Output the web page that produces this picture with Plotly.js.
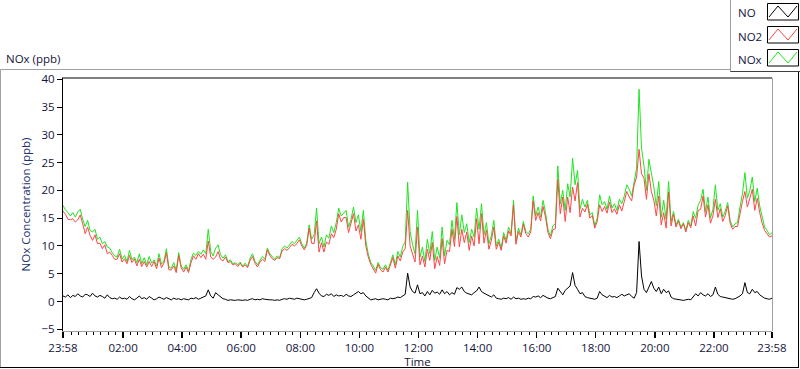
<!DOCTYPE html>
<html>
<head>
<meta charset="utf-8">
<script src="https://cdn.plot.ly/plotly-3.0.1.min.js"></script>
<style>
html,body{margin:0;padding:0;background:#fff;}
#chart{width:800px;height:369px;}
</style>
</head>
<body>
<div id="chart"></div>
<script>
// ---- data (5-minute samples) ----
const startTime = '2024-01-01T23:58:00Z';
const sampleMinutes = 5;

const seriesNames = ['NO', 'NO2', 'NOx'];

const noValues = [
  1.0,0.8,1.2,0.7,1.1,0.9,1.4,1.0,0.8,1.3,1.2,0.9,
  1.5,1.0,0.8,1.1,0.9,0.6,1.2,0.7,0.5,0.6,0.4,0.8,
  0.5,0.6,0.4,0.9,0.5,0.3,0.6,1.0,0.5,0.7,0.4,0.9,
  0.6,0.3,0.5,0.8,0.6,0.4,0.7,0.5,0.3,0.6,0.4,0.5,
  0.3,0.5,0.4,0.3,0.6,0.5,0.7,0.4,0.6,0.8,1.0,2.1,
  1.0,0.6,1.6,1.2,0.8,0.5,0.4,0.2,0.3,0.2,0.2,0.3,
  0.2,0.2,0.3,0.2,0.4,0.5,0.3,0.4,0.3,0.5,0.4,0.3,
  0.3,0.3,0.2,0.3,0.2,0.4,0.5,0.4,0.6,0.5,0.4,0.6,
  0.5,0.4,0.3,0.4,0.6,0.7,1.6,2.3,1.5,1.0,0.9,1.3,
  1.1,1.4,0.9,1.2,1.0,1.1,0.9,1.3,1.0,0.9,1.2,1.5,
  1.8,1.4,1.6,1.0,0.6,0.3,0.4,0.5,0.3,0.4,0.5,0.4,
  0.3,0.6,0.5,0.6,0.8,0.7,1.0,1.3,5.1,2.6,1.8,1.5,
  3.0,1.4,1.6,1.0,1.8,1.2,2.0,1.5,1.7,1.3,2.1,1.4,
  1.8,1.2,1.6,1.3,2.5,2.2,2.6,1.8,1.5,1.4,1.2,1.6,
  1.9,2.6,1.8,1.5,1.3,1.0,0.8,1.2,0.6,0.5,0.4,0.6,
  0.5,0.7,0.4,0.8,0.5,0.6,0.4,0.5,0.4,0.6,0.5,0.9,
  0.8,1.0,0.7,1.1,0.8,0.6,0.5,0.7,0.9,2.4,1.8,1.2,
  2.0,2.4,2.8,5.2,2.9,2.2,1.4,1.6,0.9,0.7,0.6,0.5,
  0.4,0.6,1.8,1.2,0.9,0.7,1.1,0.8,0.9,0.7,1.0,1.3,
  1.0,1.2,1.4,0.9,0.6,1.6,10.8,4.6,2.2,1.6,2.6,3.6,
  2.4,1.8,2.6,1.4,2.2,1.6,1.9,0.8,0.5,0.4,0.3,0.3,
  0.2,0.3,0.4,0.3,0.8,1.4,1.0,1.6,1.2,1.0,1.4,0.9,
  1.2,2.6,1.3,0.9,0.8,0.7,0.6,0.5,0.4,0.5,0.7,1.0,
  1.4,3.4,1.6,1.4,2.2,1.6,1.8,1.2,0.9,0.6,0.5,0.4,
  0.6
];

const no2Values = [
  16.3,15.7,14.8,14.7,14.9,14.3,14.7,15.6,14.0,12.2,13.4,11.9,
  11.0,12.0,10.4,10.5,9.5,10.2,8.6,8.9,8.3,7.6,7.6,8.6,
  7.1,7.7,6.8,8.3,7.0,7.7,6.4,7.6,6.3,7.2,6.2,7.2,
  6.3,7.2,5.9,7.8,6.1,6.9,8.8,5.7,5.7,6.4,5.2,8.3,
  6.1,5.3,6.2,5.2,7.0,8.2,7.6,8.6,7.9,8.5,7.6,10.9,
  8.0,7.6,8.0,9.0,7.6,7.3,8.0,7.0,7.2,6.6,6.8,6.3,
  6.9,6.2,6.6,6.1,7.4,8.1,6.9,6.2,7.1,7.6,7.2,9.3,
  8.3,7.7,7.4,7.9,7.7,9.1,9.5,9.2,9.7,10.3,10.0,10.4,
  11.1,10.0,9.3,10.1,13.2,10.5,10.4,14.5,8.9,10.6,8.9,10.7,
  10.3,12.2,11.5,13.0,15.8,14.3,15.1,15.1,12.4,13.9,15.8,12.7,
  13.8,11.2,14.8,10.0,8.0,6.7,6.0,5.1,6.7,5.7,5.3,6.2,
  5.3,6.6,7.9,6.0,8.2,7.3,8.9,9.5,16.4,10.0,8.4,7.1,
  13.4,6.6,8.2,6.2,9.4,7.4,10.6,5.9,8.1,6.5,11.3,6.8,
  9.2,9.0,13.0,9.9,15.3,9.8,13.0,10.6,12.5,9.2,11.8,10.0,
  14.9,10.4,15.8,10.5,12.9,9.4,11.0,13.4,9.4,10.7,9.2,11.8,
  10.5,12.7,11.8,17.4,10.3,12.6,11.6,13.9,12.2,11.6,12.5,18.1,
  14.6,16.0,14.5,17.1,15.2,12.4,11.3,12.9,13.1,22.0,15.8,18.8,
  14.4,18.8,16.0,20.6,18.1,21.4,15.2,16.8,16.1,17.5,15.0,15.5,
  13.2,14.4,17.4,16.2,17.1,15.9,17.9,16.0,16.7,15.7,17.4,16.3,
  18.0,19.8,18.8,18.1,21.0,22.4,27.4,23.0,22.2,18.4,23.0,19.8,
  18.2,15.4,19.0,13.8,16.0,13.2,19.7,13.6,15.7,13.4,14.5,13.1,
  14.0,12.5,14.2,13.3,15.4,13.6,16.4,16.6,19.0,15.2,17.4,14.1,
  15.4,18.4,15.1,16.7,14.4,15.5,17.2,14.1,13.0,13.5,13.5,16.0,
  18.0,19.8,17.0,18.6,20.2,16.4,18.6,16.0,14.1,12.8,12.3,11.6,
  11.8
];

const noxValues = [
  17.3,16.5,16.0,15.4,16.0,15.2,16.1,16.6,14.8,13.5,14.6,12.8,
  12.5,13.0,11.2,11.6,10.4,10.8,9.8,9.6,8.8,8.2,8.0,9.4,
  7.6,8.3,7.2,9.2,7.5,8.0,7.0,8.6,6.8,7.9,6.6,8.1,
  6.9,7.5,6.4,8.6,6.7,7.3,9.5,6.2,6.0,7.0,5.6,8.8,
  6.4,5.8,6.6,5.5,7.6,8.7,8.3,9.0,8.5,9.3,8.6,13.0,
  9.0,8.2,9.6,10.2,8.4,7.8,8.4,7.2,7.5,6.8,7.0,6.6,
  7.1,6.4,6.9,6.3,7.8,8.6,7.2,6.6,7.4,8.1,7.6,9.6,
  8.6,8.0,7.6,8.2,7.9,9.5,10.0,9.6,10.3,10.8,10.4,11.0,
  11.6,10.4,9.6,10.5,13.8,11.2,12.0,16.8,10.4,11.6,9.8,12.0,
  11.4,13.6,12.4,14.2,16.8,15.4,16.0,16.4,13.4,14.8,17.0,14.2,
  15.6,12.6,16.4,11.0,8.6,7.0,6.4,5.6,7.0,6.1,5.8,6.6,
  5.6,7.2,8.4,6.6,9.0,8.0,9.9,10.8,21.5,12.6,10.2,8.6,
  16.4,8.0,9.8,7.2,11.2,8.6,12.6,7.4,9.8,7.8,13.4,8.2,
  11.0,10.2,14.6,11.2,17.8,12.0,15.6,12.4,14.0,10.6,13.0,11.6,
  16.8,13.0,17.6,12.0,14.2,10.4,11.8,14.6,10.0,11.2,9.6,12.4,
  11.0,13.4,12.2,18.2,10.8,13.2,12.0,14.4,12.6,12.2,13.0,19.0,
  15.4,17.0,15.2,18.2,16.0,13.0,11.8,13.6,14.0,24.4,17.6,20.0,
  16.4,21.2,18.8,25.8,21.0,23.6,16.6,18.4,17.0,18.2,15.6,16.0,
  13.6,15.0,19.2,17.4,18.0,16.6,19.0,16.8,17.6,16.4,18.4,17.6,
  19.0,21.0,20.2,19.0,21.6,24.0,38.2,27.6,24.4,20.0,25.6,23.4,
  20.6,17.2,21.6,15.2,18.2,14.8,21.6,14.4,16.2,13.8,14.8,13.4,
  14.2,12.8,14.6,13.6,16.2,15.0,17.4,18.2,20.2,16.2,18.8,15.0,
  16.6,21.0,16.4,17.6,15.2,16.2,17.8,14.6,13.4,14.0,14.2,17.0,
  19.4,23.2,18.6,20.0,22.4,18.0,20.4,17.2,15.0,13.4,12.8,12.0,
  12.4
];

const xTickVals = ['2024-01-01 23:58','2024-01-02 02:00','2024-01-02 04:00','2024-01-02 06:00',
  '2024-01-02 08:00','2024-01-02 10:00','2024-01-02 12:00','2024-01-02 14:00','2024-01-02 16:00',
  '2024-01-02 18:00','2024-01-02 20:00','2024-01-02 22:00','2024-01-02 23:58'];
const xTickText = ['23:58','02:00','04:00','06:00','08:00','10:00','12:00','14:00','16:00',
  '18:00','20:00','22:00','23:58'];

// ---- build sample timestamps ----
const t0 = Date.parse(startTime);
const times = noxValues.map((_, i) =>
  new Date(t0 + i * sampleMinutes * 60000).toISOString().replace('T', ' ').slice(0, 19));

// ---- geometry helpers for decorations (not data) ----
const W = 800, H = 369, ML = 63, MR = 28, MT = 78, MB = 38;
const PW = W - ML - MR, PH = H - MT - MB;
const px = v => (v - ML) / PW;
const py = v => (H - MB - v) / PH;

const TXT = '#14143a';
const FONT = 'Open Sans, Noto Sans, sans-serif';

const traces = [
  {x: times, y: noxValues, name: seriesNames[2], type: 'scatter', mode: 'lines',
   line: {color: '#1ee61e', width: 1}},
  {x: times, y: no2Values, name: seriesNames[1], type: 'scatter', mode: 'lines',
   line: {color: '#ff4646', width: 1}},
  {x: times, y: noValues, name: seriesNames[0], type: 'scatter', mode: 'lines',
   line: {color: '#000000', width: 1}}
];

const shapes = [];
const line = (x0, y0, x1, y1, color) => shapes.push({type: 'line', xref: 'paper', yref: 'paper',
  x0: px(x0), y0: py(y0), x1: px(x1), y1: py(y1), line: {color: color, width: 1}});

// outer frame
line(0.5, 69.5, 730, 69.5, '#a0a0a0');
line(0.5, 69.5, 0.5, 367.5, '#a0a0a0');
line(0, 367.5, 799, 367.5, '#000000');
line(798.5, 72, 798.5, 367.5, '#000000');
// plot frame top / right
line(62, 78, 772, 78, '#000000');
line(772.5, 78, 772.5, 331, '#a0a0a0');

// legend box
shapes.push({type: 'rect', xref: 'paper', yref: 'paper', x0: px(730.5), y0: py(0), x1: px(800), y1: py(72),
  fillcolor: '#ffffff', line: {width: 0}});
line(730.5, 0, 730.5, 72, '#a0a0a0');
line(730.5, 71.5, 800, 71.5, '#404040');
const swColors = ['#000000', '#ff4646', '#1ee61e'];
const swTop = [3, 26, 49];
swTop.forEach((top, k) => {
  const bot = top + 17;
  shapes.push({type: 'rect', xref: 'paper', yref: 'paper', x0: px(767.5), y0: py(top + 0.5), x1: px(798.5), y1: py(bot),
    line: {color: '#000000', width: 1}, fillcolor: '#ffffff'});
  const pts = [[769, bot - 3], [778, top + 3], [788, bot - 3], [797, top + 3]];
  shapes.push({type: 'path', xref: 'paper', yref: 'paper',
    path: 'M' + pts.map(p => px(p[0]) + ',' + py(p[1])).join(' L'),
    line: {color: swColors[k], width: 1}});
});

const annotations = [
  {text: 'NOx (ppb)', xref: 'paper', yref: 'paper', x: px(4), y: py(58), xanchor: 'left', yanchor: 'middle',
   showarrow: false, font: {family: FONT, size: 11.5, color: TXT}},
  {text: seriesNames[0], xref: 'paper', yref: 'paper', x: px(736), y: py(13), xanchor: 'left', yanchor: 'middle',
   showarrow: false, font: {family: FONT, size: 11.5, color: TXT}},
  {text: seriesNames[1], xref: 'paper', yref: 'paper', x: px(736), y: py(36), xanchor: 'left', yanchor: 'middle',
   showarrow: false, font: {family: FONT, size: 11.5, color: TXT}},
  {text: seriesNames[2], xref: 'paper', yref: 'paper', x: px(736), y: py(59), xanchor: 'left', yanchor: 'middle',
   showarrow: false, font: {family: FONT, size: 11.5, color: TXT}}
];

const layout = {
  width: W, height: H,
  margin: {l: ML, r: MR, t: MT, b: MB, pad: 0},
  paper_bgcolor: '#ffffff', plot_bgcolor: '#ffffff',
  showlegend: false,
  font: {family: FONT, size: 11, color: TXT},
  xaxis: {
    type: 'date',
    range: [xTickVals[0], xTickVals[xTickVals.length - 1]],
    tickmode: 'array', tickvals: xTickVals, ticktext: xTickText,
    ticks: 'outside', ticklen: 6, tickwidth: 1.5, tickcolor: '#000000',
    minor: {tickmode: 'linear', tick0: '2024-01-02 00:00', dtick: 15 * 60000,
            ticks: 'outside', ticklen: 3, tickwidth: 1, tickcolor: '#000000', showgrid: false},
    showgrid: false, zeroline: false,
    showline: true, linecolor: '#a0a0a0', linewidth: 1,
    tickfont: {family: FONT, size: 11.5, color: TXT},
    title: {text: 'Time', font: {family: FONT, size: 11.5, color: TXT}, standoff: 2},
    automargin: false, fixedrange: true
  },
  yaxis: {
    range: [-5.31, 40.23],
    tickmode: 'linear', tick0: 0, dtick: 5,
    ticks: 'outside', ticklen: 5, tickwidth: 1, tickcolor: '#000000',
    showgrid: false, zeroline: false,
    showline: true, linecolor: '#000000', linewidth: 1,
    tickfont: {family: FONT, size: 11.5, color: TXT},
    title: {text: 'NOx Concentration (ppb)', font: {family: FONT, size: 11.5, color: '#203070'}, standoff: 8},
    automargin: false, fixedrange: true
  },
  shapes: shapes,
  annotations: annotations
};

Plotly.newPlot('chart', traces, layout, {staticPlot: true, displayModeBar: false});
</script>
</body>
</html>
